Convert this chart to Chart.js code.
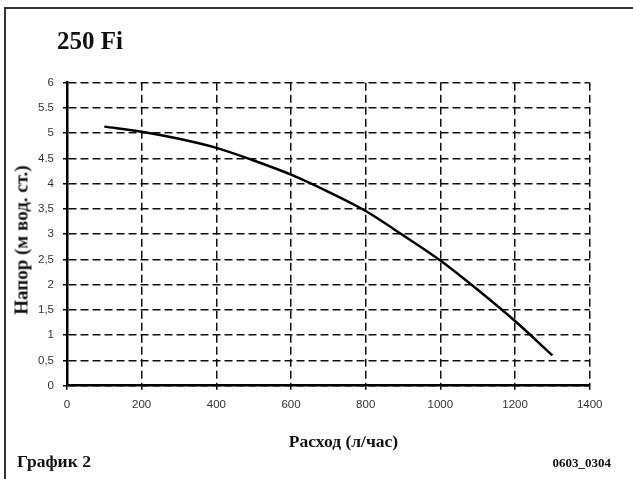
<!DOCTYPE html>
<html lang="ru">

<head>
  <meta charset="UTF-8">
  <title>250 Fi</title>
  <script src="https://cdn.jsdelivr.net/npm/chart.js"></script>
  <style>
    body {
      margin: 0;
      background: #ffffff;
      width: 633px;
      height: 479px;
      overflow: hidden;
      position: relative;
      font-family: 'Liberation Serif', 'DejaVu Serif', serif;
      color: #111;
    }

    .frame {
      position: absolute;
      left: 4px;
      top: 7px;
      width: 700px;
      height: 520px;
      border: 2px solid #333;
    }

    canvas {
      position: absolute;
      left: 0;
      top: 0;
    }

    .txt {
      position: absolute;
      font-weight: bold;
      line-height: 1;
      white-space: nowrap;
    }
  </style>
</head>

<body>
  <div class="frame"></div>
  <canvas id="pumpChart" width="633" height="479"></canvas>

  <div class="txt" style="left:57px; top:28px; font-size:25px;">250 Fi</div>
  <div class="txt" style="left:21px; top:239.5px; font-size:19px; transform: translate(-50%, -50%) rotate(-90deg);">Напор (м вод. ст.)</div>
  <div class="txt" style="left:343.5px; top:432.5px; font-size:17.5px; transform: translateX(-50%);">Расход (л/час)</div>
  <div class="txt" style="left:17px; top:452.5px; font-size:17.5px;">График 2</div>
  <div class="txt" style="right:22px; top:456px; font-size:13px;">0603_0304</div>

  <script>
    // flow (l/h) vs head (m)
    const flowValues = [100, 200, 300, 400, 500, 600, 700, 800, 900, 1000, 1100, 1200, 1300];
    const headValues = [5.13, 5.03, 4.89, 4.71, 4.46, 4.18, 3.84, 3.46, 2.98, 2.48, 1.9, 1.28, 0.6];

    const xTickLabels = ['0', '200', '400', '600', '800', '1000', '1200', '1400'];
    const yTickLabels = ['0', '0,5', '1', '1,5', '2', '2,5', '3', '3,5', '4', '4.5', '5', '5.5', '6'];

    const points = flowValues.map((x, i) => ({ x: x, y: headValues[i] }));

    const gridStyle = {
      color: '#111',
      lineWidth: 1.5,
      tickLength: 4,
      tickColor: '#000',
      tickWidth: 1.5
    };
    const borderStyle = {
      display: true,
      color: '#000',
      width: 2.5,
      dash: [8, 4]
    };
    const tickFont = { family: "'Liberation Sans', Arial, sans-serif", size: 11.5 };

    const ctx = document.getElementById('pumpChart').getContext('2d');
    new Chart(ctx, {
      type: 'line',
      data: {
        datasets: [{
          data: points,
          borderColor: '#000',
          borderWidth: 2.5,
          pointRadius: 0,
          fill: false,
          tension: 0.4,
          cubicInterpolationMode: 'monotone'
        }]
      },
      options: {
        responsive: false,
        animation: false,
        layout: {
          padding: { left: 27, right: 43.3, top: 82.7, bottom: 63.3 }
        },
        plugins: {
          legend: { display: false },
          tooltip: { enabled: false }
        },
        scales: {
          x: {
            type: 'linear',
            min: 0,
            max: 1400,
            afterFit: s => { s.height = 30; },
            grid: gridStyle,
            border: borderStyle,
            ticks: {
              stepSize: 200,
              padding: 8,
              color: '#333',
              font: tickFont,
              maxRotation: 0,
              callback: (v, i) => xTickLabels[i]
            }
          },
          y: {
            min: 0,
            max: 6,
            afterFit: s => { s.width = 40; },
            grid: gridStyle,
            border: borderStyle,
            ticks: {
              stepSize: 0.5,
              padding: 9,
              color: '#333',
              font: tickFont,
              callback: (v, i) => yTickLabels[i]
            }
          }
        }
      }
    });
  </script>
</body>

</html>
